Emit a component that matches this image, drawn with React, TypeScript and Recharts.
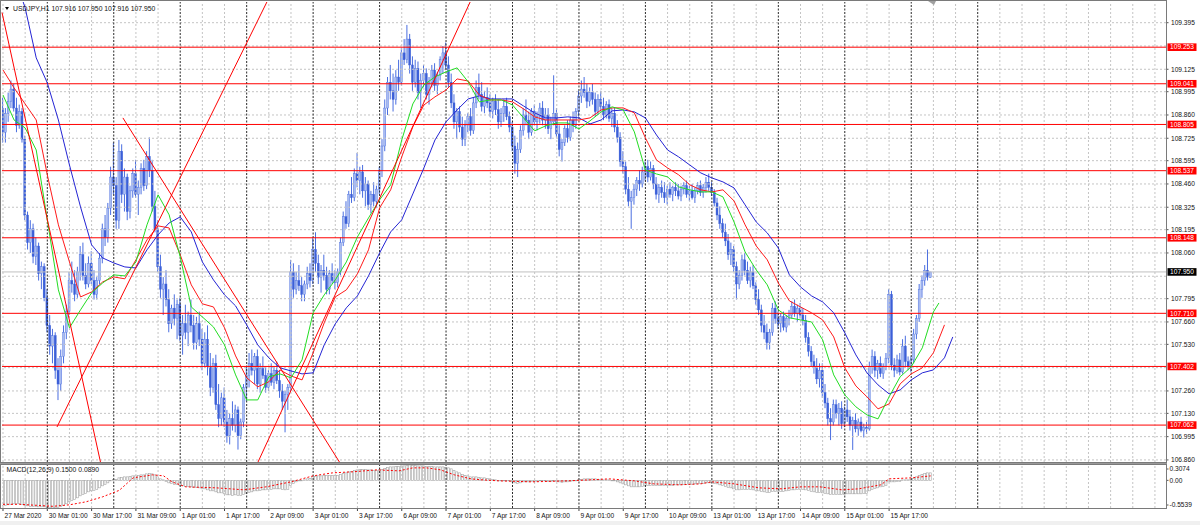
import React from 'react';
import { ComposedChart, Bar, Line, XAxis, YAxis, ReferenceLine } from 'recharts';

const FONT = '"Liberation Sans", Arial, sans-serif';
const X_DOMAIN: [number, number] = [-0.36, 420];
const PRICE_DOMAIN: [number, number] = [106.848, 109.515];
const MACD_DOMAIN: [number, number] = [-0.5539, 0.3074];

const symbolTitle = 'USDJPY,H1  107.916 107.950 107.916 107.950';
const macdTitle = 'MACD(12,26,9) 0.1500 0.0890';

const timeLabels = ['27 Mar 2020', '30 Mar 01:00', '30 Mar 17:00', '31 Mar 09:00', '1 Apr 01:00', '1 Apr 17:00', '2 Apr 09:00', '3 Apr 01:00', '3 Apr 17:00', '6 Apr 09:00', '7 Apr 01:00', '7 Apr 17:00', '8 Apr 09:00', '9 Apr 01:00', '9 Apr 17:00', '10 Apr 09:00', '13 Apr 01:00', '13 Apr 17:00', '14 Apr 09:00', '15 Apr 01:00', '15 Apr 17:00'];
const labelBars = timeLabels.map((_, k) => k * 16);
const gridBars = Array.from({ length: 53 }, (_, k) => k * 8);
const daySeparatorBars = Array.from({ length: 15 }, (_, k) => 16 + k * 24);

const priceTicks = [106.86, 106.995, 107.13, 107.26, 107.395, 107.53, 107.66, 107.795, 107.925, 108.06, 108.195, 108.325, 108.46, 108.595, 108.725, 108.86, 108.995, 109.125, 109.26, 109.395];
const coveredTicks = [107.395, 107.925, 109.26];
const levels = [109.253, 109.041, 108.805, 108.537, 108.148, 107.71, 107.402, 107.062];
const lastPrice = 107.95;
const macdTicks = [0.3074, 0, -0.5539];

const trendLines: [number, number][][] = [
  [[-0.36, 109.454], [35.2, 106.848]],
  [[19.5, 107.051], [95.3, 109.515]],
  [[43.3, 108.843], [121.5, 106.848]],
  [[92.1, 106.848], [168.7, 109.515]],
];

// hourly candles [open, high, low, close], in thousandths of a yen above 106.000
const candles: number[][] = [
  [2900,2960,2700,2760],[2760,2900,2700,2870],[2870,2990,2820,2940],[2940,3060,2900,3010],[3010,3040,2880,2900],[2900,2960,2760,2800],[2800,2920,2780,2880],[2880,2900,2700,2720],[2720,2740,2250,2280],[2280,2300,2080,2120],
  [2120,2250,2060,2200],[2200,2230,2000,2040],[2040,2150,1990,2100],[2100,2120,1900,1940],[1940,2010,1850,1980],[1980,2000,1780,1800],[1800,1850,1600,1640],[1640,1700,1470,1520],[1520,1620,1420,1580],[1580,1600,1330,1380],
  [1380,1450,1207,1300],[1300,1500,1260,1460],[1460,1640,1420,1600],[1600,1760,1560,1720],[1720,1950,1700,1900],[1900,2010,1830,1880],[1880,1960,1780,1820],[1820,1980,1800,1950],[1950,2100,1900,2050],[2050,2120,1900,1930],
  [1930,2000,1850,1880],[1880,2040,1860,2000],[2000,2070,1880,1900],[1900,1960,1790,1820],[1820,1920,1790,1900],[1900,2060,1880,2030],[2030,2230,2000,2200],[2200,2280,2100,2150],[2150,2350,2120,2320],[2320,2560,2280,2500],
  [2500,2700,2400,2450],[2450,2500,2200,2250],[2250,2715,2200,2650],[2650,2690,2350,2400],[2400,2550,2300,2500],[2500,2520,2250,2300],[2300,2450,2260,2420],[2420,2550,2380,2520],[2520,2600,2380,2400],[2400,2480,2280,2440],
  [2440,2580,2400,2550],[2550,2600,2420,2450],[2450,2650,2430,2620],[2620,2730,2500,2540],[2540,2600,2300,2330],[2330,2420,2180,2200],[2200,2250,1950,1980],[1980,2050,1800,1850],[1850,1920,1700,1880],[1880,1960,1750,1790],
  [1790,1850,1600,1650],[1650,1760,1620,1740],[1740,1820,1640,1680],[1680,1790,1560,1760],[1760,1800,1550,1580],[1580,1700,1470,1650],[1650,1760,1560,1600],[1600,1720,1520,1700],[1700,1790,1600,1640],[1640,1700,1500,1540],
  [1540,1690,1500,1650],[1650,1720,1520,1560],[1560,1620,1380,1420],[1420,1600,1400,1560],[1560,1640,1350,1400],[1400,1480,1230,1280],[1280,1450,1250,1420],[1420,1470,1150,1180],[1180,1300,1050,1100],[1100,1250,1060,1220],
  [1220,1280,1050,1080],[1080,1150,960,1000],[1000,1130,950,1100],[1100,1200,1030,1060],[1060,1180,1020,1150],[1150,1170,920,1000],[1000,1100,980,1080],[1080,1300,1050,1280],[1280,1400,1200,1350],[1350,1480,1280,1420],
  [1420,1500,1350,1380],[1380,1480,1300,1460],[1460,1500,1270,1300],[1300,1420,1250,1390],[1390,1460,1330,1350],[1350,1400,1250,1280],[1280,1380,1260,1360],[1360,1420,1290,1310],[1310,1400,1270,1380],[1380,1430,1300,1320],
  [1320,1380,1220,1260],[1260,1300,1150,1200],[1200,1260,1020,1240],[1240,1300,1150,1280],[1280,2020,1260,1950],[1950,2000,1800,1850],[1850,1950,1820,1900],[1900,1990,1840,1870],[1870,1920,1780,1820],[1820,1900,1780,1880],
  [1880,1980,1850,1940],[1940,2000,1860,1900],[1900,2150,1880,2080],[2080,2180,1950,2000],[2000,2050,1880,1920],[1920,1990,1830,1960],[1960,2050,1900,1930],[1930,1980,1820,1850],[1850,1960,1820,1940],[1940,2000,1880,1900],
  [1900,1960,1850,1890],[1890,1970,1860,1950],[1950,2150,1930,2120],[2120,2300,2100,2270],[2270,2360,2200,2230],[2230,2420,2210,2400],[2400,2500,2350,2380],[2380,2550,2360,2520],[2520,2640,2440,2480],[2480,2560,2400,2530],
  [2530,2570,2380,2420],[2420,2500,2330,2460],[2460,2480,2310,2340],[2340,2420,2290,2400],[2400,2470,2330,2360],[2360,2450,2320,2430],[2430,2560,2400,2540],[2540,2720,2500,2680],[2680,2950,2650,2900],[2900,3080,2860,3050],
  [3050,3150,2950,3000],[3000,3100,2880,2950],[2950,3120,2920,3080],[3080,3180,3000,3050],[3050,3250,3030,3220],[3220,3300,3150,3180],[3180,3382,3160,3300],[3300,3330,3100,3150],[3150,3200,3000,3050],[3050,3180,3020,3130],
  [3130,3170,2950,2990],[2990,3100,2900,3060],[3060,3150,3020,3100],[3100,3130,2950,2980],[2980,3080,2920,3050],[3050,3150,3020,3120],[3120,3160,3000,3030],[3030,3110,2980,3090],[3090,3200,3060,3180],[3180,3260,3100,3220],
  [3220,3280,3120,3150],[3150,3200,3020,3050],[3050,3100,2900,2930],[2930,2980,2780,2820],[2820,2900,2720,2880],[2880,2910,2760,2790],[2790,2850,2680,2720],[2720,2830,2680,2800],[2800,2870,2760,2850],[2850,2900,2740,2770],
  [2770,2960,2750,2930],[2930,3060,2900,3020],[3020,3100,2950,2980],[2980,3050,2880,2910],[2910,3000,2870,2960],[2960,3020,2900,2930],[2930,2980,2850,2880],[2880,2960,2840,2940],[2940,2980,2860,2890],[2890,2950,2780,2820],
  [2820,2900,2790,2870],[2870,2950,2820,2910],[2910,2960,2830,2850],[2850,2880,2760,2790],[2790,2820,2650,2680],[2680,2740,2520,2580],[2580,2700,2500,2660],[2660,2800,2640,2770],[2770,2900,2740,2860],[2860,2950,2800,2830],
  [2830,2880,2720,2760],[2760,2900,2740,2880],[2880,2920,2800,2820],[2820,2880,2770,2850],[2850,2930,2810,2900],[2900,2940,2800,2830],[2830,2900,2780,2860],[2860,2900,2750,2780],[2780,2850,2720,2820],[2820,3090,2800,2870],
  [2870,2900,2730,2750],[2750,2800,2620,2660],[2660,2720,2590,2700],[2700,2800,2680,2780],[2780,2830,2700,2730],[2730,2850,2710,2830],[2830,2880,2760,2800],[2800,2900,2780,2880],[2880,3000,2850,2970],[2970,3060,2930,3010],
  [3010,3080,2960,2990],[2990,3040,2900,2940],[2940,3020,2910,2990],[2990,3040,2920,2950],[2950,2990,2850,2880],[2880,2980,2860,2950],[2950,3000,2880,2910],[2910,2960,2830,2860],[2860,2940,2840,2920],[2920,2950,2820,2840],
  [2840,2900,2790,2870],[2870,2900,2760,2790],[2790,2830,2700,2730],[2730,2760,2560,2590],[2590,2650,2520,2560],[2560,2590,2400,2430],[2430,2500,2330,2360],[2360,2420,2200,2380],[2380,2460,2340,2430],[2430,2500,2390,2480],
  [2480,2540,2420,2460],[2460,2560,2440,2530],[2530,2590,2480,2560],[2560,2600,2470,2500],[2500,2590,2480,2550],[2550,2570,2430,2460],[2460,2500,2370,2400],[2400,2460,2350,2440],[2440,2480,2380,2410],[2410,2470,2350,2380],
  [2380,2450,2340,2430],[2430,2470,2380,2400],[2400,2450,2360,2440],[2440,2470,2390,2420],[2420,2460,2370,2390],[2390,2450,2360,2430],[2430,2470,2400,2450],[2450,2480,2380,2400],[2400,2450,2360,2420],[2420,2460,2370,2380],
  [2380,2440,2350,2420],[2420,2470,2400,2450],[2450,2480,2390,2410],[2410,2460,2380,2440],[2440,2500,2410,2470],[2470,2520,2420,2440],[2440,2470,2390,2410],[2410,2430,2330,2350],[2350,2380,2250,2280],[2280,2330,2200,2230],
  [2230,2260,2150,2180],[2180,2230,2100,2130],[2130,2170,2020,2050],[2050,2120,1990,2080],[2080,2100,1950,1980],[1980,2010,1790,1880],[1880,1960,1850,1930],[1930,2050,1900,2020],[2020,2060,1930,1960],[1960,2010,1880,1900],
  [1900,1980,1860,1950],[1950,1990,1850,1870],[1870,1890,1760,1790],[1790,1850,1700,1730],[1730,1760,1600,1640],[1640,1700,1560,1600],[1600,1650,1500,1540],[1540,1620,1500,1600],[1600,1770,1580,1740],[1740,1780,1650,1680],
  [1680,1720,1620,1650],[1650,1710,1600,1690],[1690,1720,1610,1630],[1630,1700,1600,1680],[1680,1730,1640,1700],[1700,1780,1680,1750],[1750,1790,1690,1710],[1710,1760,1660,1740],[1740,1770,1680,1700],[1700,1740,1640,1670],
  [1670,1700,1540,1570],[1570,1600,1460,1490],[1490,1520,1400,1430],[1430,1470,1360,1400],[1400,1450,1300,1330],[1330,1420,1280,1380],[1380,1420,1220,1250],[1250,1300,1160,1190],[1190,1220,1060,1100],[1100,1160,975,1080],
  [1080,1210,1060,1180],[1180,1210,1100,1130],[1130,1190,1060,1160],[1160,1200,1040,1070],[1070,1170,1050,1150],[1150,1210,1080,1110],[1110,1150,1030,1060],[1060,1110,918,1090],[1090,1130,1020,1040],[1040,1100,1000,1080],
  [1080,1110,1020,1030],[1030,1070,990,1050],[1050,1080,1010,1040],[1040,1430,1030,1400],[1400,1500,1360,1460],[1460,1490,1340,1380],[1380,1440,1330,1420],[1420,1460,1340,1360],[1360,1420,1330,1400],[1400,1480,1380,1450],
  [1450,1850,1420,1820],[1820,1840,1380,1410],[1410,1450,1340,1380],[1380,1470,1360,1440],[1440,1480,1350,1370],[1370,1560,1360,1520],[1520,1580,1400,1430],[1430,1460,1380,1400],[1400,1460,1370,1440],[1440,1620,1420,1590],
  [1590,1700,1560,1680],[1680,1880,1660,1850],[1850,1930,1800,1900],[1900,1990,1870,1960],[1960,2080,1900,1920],[1916,1950,1916,1950],
];

// moving averages: [bar, price]
const maFast: [number, number][] = [
  [0,108.976],[4,108.831],[8,108.785],[12,108.657],[16,108.252],[20,107.846],[24,107.626],[28,107.730],[32,107.829],[36,107.886],
  [40,107.933],[44,107.927],[48,108.008],[52,108.223],[56,108.397],[60,108.281],[64,108.037],[68,107.747],[72,107.689],[76,107.631],
  [80,107.527],[84,107.353],[88,107.208],[92,107.208],[96,107.342],[100,107.359],[104,107.336],[108,107.440],[112,107.713],[116,107.817],
  [120,107.904],[124,108.008],[128,108.153],[132,108.263],[136,108.368],[140,108.455],[144,108.715],[148,108.924],[152,109.034],[156,109.081],
  [160,109.110],[164,109.133],[168,109.052],[172,108.936],[176,108.947],[180,108.947],[184,108.918],[188,108.843],[192,108.768],[196,108.797],
  [200,108.814],[204,108.814],[208,108.779],[212,108.826],[216,108.878],[220,108.907],[224,108.889],[228,108.762],[232,108.541],[236,108.518],
  [240,108.501],[244,108.443],[248,108.426],[252,108.414],[256,108.414],[260,108.385],[264,108.240],[268,108.066],[272,107.962],[276,107.875],
  [280,107.730],[284,107.684],[288,107.672],[292,107.660],[296,107.556],[300,107.353],[304,107.237],[308,107.168],[312,107.121],[316,107.098],
  [320,107.226],[324,107.342],[328,107.400],[332,107.510],[336,107.718],[338,107.770],
];
const maMid: [number, number][] = [
  [0,109.121],[4,109.017],[8,108.924],[12,108.831],[16,108.513],[20,108.223],[24,108.008],[28,107.805],[32,107.834],[36,107.892],
  [40,107.921],[44,107.910],[48,108.020],[52,108.136],[56,108.217],[60,108.205],[64,108.049],[68,107.875],[72,107.765],[76,107.747],
  [80,107.626],[84,107.463],[88,107.336],[92,107.284],[96,107.313],[100,107.382],[104,107.347],[108,107.324],[112,107.481],[116,107.655],
  [120,107.805],[124,107.846],[128,107.939],[132,108.078],[136,108.321],[140,108.426],[144,108.617],[148,108.791],[152,108.918],[156,108.965],
  [160,109.005],[164,109.069],[168,109.057],[172,108.976],[176,108.947],[180,108.947],[184,108.936],[188,108.895],[192,108.849],[196,108.831],
  [200,108.831],[204,108.831],[208,108.831],[212,108.843],[216,108.889],[220,108.901],[224,108.901],[228,108.872],[232,108.727],[236,108.599],
  [240,108.553],[244,108.513],[248,108.455],[252,108.426],[256,108.414],[260,108.426],[264,108.362],[268,108.223],[272,108.101],[276,108.020],
  [280,107.886],[284,107.782],[288,107.747],[292,107.713],[296,107.672],[300,107.573],[304,107.394],[308,107.289],[312,107.226],[316,107.156],
  [320,107.185],[324,107.301],[328,107.359],[332,107.394],[336,107.481],[340,107.643],
];
const maSlow: [number, number][] = [
  [0,109.875],[4,109.672],[8,109.481],[12,109.191],[16,109.046],[20,108.831],[24,108.570],[28,108.327],[32,108.107],[36,108.031],
  [40,108.002],[44,107.979],[48,107.973],[52,108.078],[56,108.165],[60,108.234],[64,108.269],[68,108.182],[72,108.008],[76,107.904],
  [80,107.817],[84,107.753],[88,107.643],[92,107.527],[96,107.452],[100,107.394],[104,107.376],[108,107.359],[112,107.365],[116,107.527],
  [120,107.649],[124,107.742],[128,107.811],[132,107.927],[136,108.060],[140,108.182],[144,108.252],[148,108.402],[152,108.553],[156,108.715],
  [160,108.820],[164,108.889],[168,108.953],[172,108.971],[176,108.953],[180,108.953],[184,108.953],[188,108.912],[192,108.872],[196,108.843],
  [200,108.843],[204,108.849],[208,108.843],[212,108.808],[216,108.831],[220,108.884],[224,108.889],[228,108.878],[232,108.843],[236,108.744],
  [240,108.657],[244,108.617],[248,108.570],[252,108.524],[256,108.495],[260,108.472],[264,108.437],[268,108.339],[272,108.240],[276,108.176],
  [280,108.089],[284,107.933],[288,107.863],[292,107.811],[296,107.776],[300,107.713],[304,107.597],[308,107.469],[312,107.365],[316,107.295],
  [320,107.243],[324,107.266],[328,107.324],[332,107.365],[336,107.382],[340,107.452],[343,107.573],
];

// MACD main (histogram), one value per bar
const macdMain: number[] = [
  -0.50,-0.50,-0.49,-0.48,-0.47,-0.47,-0.47,-0.48,-0.50,-0.51,
  -0.52,-0.52,-0.52,-0.53,-0.53,-0.53,-0.54,-0.55,-0.5539,-0.55,
  -0.54,-0.52,-0.50,-0.47,-0.43,-0.40,-0.38,-0.35,-0.31,-0.28,
  -0.26,-0.23,-0.21,-0.20,-0.18,-0.15,-0.11,-0.08,-0.05,-0.01,
  0.02,0.02,0.05,0.06,0.07,0.07,0.08,0.09,0.09,0.10,
  0.11,0.11,0.13,0.14,0.13,0.11,0.07,0.03,0.01,-0.02,
  -0.05,-0.06,-0.08,-0.08,-0.10,-0.11,-0.12,-0.12,-0.13,-0.14,
  -0.14,-0.15,-0.17,-0.17,-0.19,-0.21,-0.21,-0.23,-0.25,-0.25,
  -0.27,-0.29,-0.29,-0.30,-0.29,-0.30,-0.30,-0.28,-0.26,-0.24,
  -0.23,-0.21,-0.21,-0.20,-0.19,-0.19,-0.18,-0.18,-0.17,-0.17,
  -0.17,-0.18,-0.19,-0.18,-0.10,-0.06,-0.03,-0.01,0.00,0.01,
  0.03,0.04,0.07,0.08,0.09,0.09,0.10,0.10,0.10,0.10,
  0.10,0.10,0.12,0.14,0.15,0.17,0.18,0.20,0.21,0.22,
  0.22,0.22,0.21,0.21,0.20,0.20,0.21,0.22,0.24,0.26,
  0.27,0.27,0.28,0.28,0.29,0.29,0.30,0.3074,0.30,0.30,
  0.29,0.29,0.29,0.28,0.28,0.28,0.27,0.27,0.27,0.27,
  0.26,0.25,0.23,0.20,0.17,0.15,0.12,0.10,0.09,0.07,
  0.07,0.07,0.06,0.05,0.05,0.04,0.03,0.02,0.01,0.00,
  0.00,0.00,0.00,-0.01,-0.03,-0.05,-0.06,-0.05,-0.03,-0.03,
  -0.03,-0.02,-0.02,-0.02,-0.01,-0.01,-0.01,-0.02,-0.02,-0.01,
  -0.02,-0.03,-0.04,-0.03,-0.03,-0.02,-0.01,0.00,0.01,0.02,
  0.03,0.03,0.03,0.03,0.03,0.02,0.02,0.01,0.01,0.01,
  0.00,-0.01,-0.03,-0.05,-0.07,-0.09,-0.11,-0.13,-0.13,-0.13,
  -0.13,-0.12,-0.11,-0.10,-0.10,-0.10,-0.10,-0.10,-0.10,-0.10,
  -0.10,-0.10,-0.10,-0.09,-0.09,-0.09,-0.08,-0.08,-0.08,-0.08,
  -0.07,-0.07,-0.06,-0.06,-0.05,-0.05,-0.05,-0.06,-0.07,-0.09,
  -0.10,-0.12,-0.14,-0.15,-0.17,-0.19,-0.19,-0.18,-0.18,-0.18,
  -0.18,-0.19,-0.20,-0.21,-0.22,-0.23,-0.24,-0.24,-0.22,-0.22,
  -0.22,-0.22,-0.22,-0.21,-0.20,-0.19,-0.19,-0.18,-0.18,-0.18,
  -0.19,-0.20,-0.22,-0.23,-0.24,-0.24,-0.25,-0.26,-0.27,-0.28,
  -0.28,-0.28,-0.28,-0.28,-0.28,-0.27,-0.27,-0.27,-0.27,-0.27,
  -0.27,-0.26,-0.26,-0.21,-0.18,-0.16,-0.15,-0.13,-0.12,-0.10,
  -0.03,-0.03,-0.03,-0.02,-0.02,0.01,0.01,0.01,0.02,0.04,
  0.07,0.10,0.12,0.14,0.15,0.15,
];
// MACD signal line: [bar, value]
const macdSignal: [number, number][] = [
  [0,-0.48],[6,-0.48],[12,-0.50],[18,-0.52],[24,-0.49],[30,-0.43],[36,-0.33],[42,-0.20],[47,0.05],[54,0.11],
  [58,0.09],[61,-0.03],[66,-0.13],[77,-0.15],[87,-0.19],[95,-0.13],[104,-0.03],[112,0.09],[119,0.15],[126,0.17],
  [135,0.21],[143,0.19],[148,0.25],[153,0.25],[158,0.21],[163,0.11],[169,0.03],[173,0.01],[179,-0.01],[191,-0.03],
  [204,-0.01],[212,0.01],[219,0.03],[228,-0.01],[235,-0.07],[244,-0.09],[252,-0.07],[256,-0.03],[264,-0.07],[273,-0.15],
  [281,-0.17],[288,-0.13],[295,-0.13],[303,-0.19],[309,-0.17],[317,-0.09],[320,0.03],[328,0.05],[335,0.089],
];

// ---------- tables built from the arrays above ----------
const priceRows: any[] = Array.from({ length: 344 }, (_, i) => ({ i }));
candles.forEach((c, i) => {
  const [o, h, l, cl] = c.map((v) => 106 + v / 1000);
  Object.assign(priceRows[i], { o, h, l, c: cl, range: [l, h] });
});
maFast.forEach(([b, v]) => (priceRows[b].g = v));
maMid.forEach(([b, v]) => (priceRows[b].r = v));
maSlow.forEach(([b, v]) => (priceRows[b].s = v));

const macdRows: any[] = macdMain.map((m, i) => ({ i, m }));
macdSignal.forEach(([b, v]) => (macdRows[b].sig = v));

// ---------- styling ----------
const BULL_FILL = '#a9bcf0';
const BEAR_FILL = '#3b5fd8';
const WICK = '#4a6ee0';
const GRID = '#c4c4c4';
const SEP = '#2a2a2a';
const LEVEL = '#ff0000';

const CandleShape = (props: any) => {
  const { x, y, width, height, payload } = props;
  if (!payload || payload.o == null || x == null) return null;
  const top = Math.min(y, y + height);
  const hgt = Math.abs(height);
  const { o, h, l, c } = payload;
  const cx = x + width / 2;
  const k = h - l > 0 ? hgt / (h - l) : 0;
  const yO = top + (h - o) * k;
  const yC = top + (h - c) * k;
  const up = c >= o;
  const bTop = Math.min(yO, yC);
  const bH = Math.max(Math.abs(yC - yO), 1);
  return (
    <g>
      <line x1={cx} x2={cx} y1={top} y2={top + hgt} stroke={WICK} strokeWidth={1} />
      <rect x={cx - 1} y={bTop} width={2} height={bH} fill={up ? BULL_FILL : BEAR_FILL} stroke={up ? WICK : BEAR_FILL} strokeWidth={0.4} />
    </g>
  );
};

const HistShape = (props: any) => {
  const { x, y, width, height } = props;
  if (x == null || y == null) return null;
  const top = Math.min(y, y + height);
  const hgt = Math.max(Math.abs(height), 0.5);
  const cx = x + width / 2;
  return <rect x={cx - 1} y={top} width={2} height={hgt} fill="#ffffff" stroke="#a4a4a4" strokeWidth={0.6} />;
};

const PriceTick = (props: any) => {
  const { x, y, payload } = props;
  return (
    <g>
      <line x1={x} x2={x + 2.5} y1={y} y2={y} stroke="#555" strokeWidth={1} />
      <text x={x + 5} y={y} dy="0.35em" fontSize={6.6} fontFamily={FONT} fill="#111">
        {Number(payload.value).toFixed(3)}
      </text>
    </g>
  );
};

const MacdTick = (props: any) => {
  const { x, y, payload } = props;
  const v = Number(payload.value);
  const yy = v === macdTicks[0] ? y + 4 : v === macdTicks[2] ? y - 3 : y;
  const txt = v === 0 ? '0.00' : v.toFixed(4);
  return (
    <g>
      <line x1={x} x2={x + 2.5} y1={yy} y2={yy} stroke="#555" strokeWidth={1} />
      <text x={x + 3.5} y={yy} dy="0.35em" fontSize={6.6} fontFamily={FONT} fill="#111">
        {txt}
      </text>
    </g>
  );
};

const TimeTick = (props: any) => {
  const { x, y, payload } = props;
  const idx = labelBars.indexOf(Number(payload.value));
  return (
    <g>
      <line x1={x} x2={x} y1={y} y2={y + 3} stroke="#444" strokeWidth={1} />
      <text x={x + 1.5} y={y + 8} dy="0.35em" fontSize={6.6} fontFamily={FONT} fill="#111">
        {timeLabels[idx]}
      </text>
    </g>
  );
};

const PriceTag = (props: any) => {
  const { viewBox, text, bg } = props;
  if (!viewBox) return null;
  const x = viewBox.x + viewBox.width + 1.5;
  const y = viewBox.y;
  return (
    <g>
      <rect x={x} y={y - 3.8} width={29} height={7.6} fill={bg} />
      <text x={x + 14.5} y={y} dy="0.35em" textAnchor="middle" fontSize={6.6} fontFamily={FONT} fill="#ffffff">
        {text}
      </text>
    </g>
  );
};

const verticalGrid = (prefix: string) => [
  ...gridBars
    .filter((b) => !daySeparatorBars.includes(b))
    .map((b) => <ReferenceLine key={`${prefix}g${b}`} x={b} stroke={GRID} strokeDasharray="2 2" ifOverflow="visible" />),
  ...daySeparatorBars.map((b) => <ReferenceLine key={`${prefix}d${b}`} x={b} stroke={SEP} strokeDasharray="2 1.5" ifOverflow="visible" />),
];

export default function App() {
  return (
    <div style={{ position: 'absolute', left: 0, top: 0, width: 1200, height: 525, background: '#ffffff', overflow: 'hidden' }}>
      <div style={{ position: 'absolute', left: 0, top: 0 }}>
        <ComposedChart width={1200} height={463} data={priceRows} margin={{ top: 2, right: 0, bottom: 1, left: 2 }}>
          <XAxis dataKey="i" type="number" domain={X_DOMAIN} allowDataOverflow hide />
          <YAxis
            orientation="right"
            type="number"
            domain={PRICE_DOMAIN}
            allowDataOverflow
            ticks={priceTicks.filter((t) => !coveredTicks.includes(t))}
            interval={0}
            width={34}
            tick={<PriceTick />}
            tickLine={false}
            axisLine={false}
            tickSize={0}
            tickMargin={0}
          />
          {priceTicks.map((t) => (
            <ReferenceLine key={`h${t}`} y={t} stroke={GRID} strokeDasharray="2 2" />
          ))}
          {verticalGrid('p')}
          <ReferenceLine y={lastPrice} stroke="#c0c0c0" label={<PriceTag text={lastPrice.toFixed(3)} bg="#000000" />} />
          {levels.map((v) => (
            <ReferenceLine key={`l${v}`} y={v} stroke={LEVEL} strokeWidth={1} label={<PriceTag text={v.toFixed(3)} bg={LEVEL} />} />
          ))}
          <Bar dataKey="range" barSize={2} shape={<CandleShape />} isAnimationActive={false} />
          <Line dataKey="s" type="linear" stroke="#2424d4" strokeWidth={1} dot={false} connectNulls isAnimationActive={false} />
          <Line dataKey="r" type="linear" stroke="#ff1a1a" strokeWidth={1} dot={false} connectNulls isAnimationActive={false} />
          <Line dataKey="g" type="linear" stroke="#22dd22" strokeWidth={1} dot={false} connectNulls isAnimationActive={false} />
          {trendLines.map((seg, k) => (
            <ReferenceLine key={`t${k}`} segment={[{ x: seg[0][0], y: seg[0][1] }, { x: seg[1][0], y: seg[1][1] }]} stroke={LEVEL} strokeWidth={1} ifOverflow="visible" />
          ))}
        </ComposedChart>
      </div>
      <div style={{ position: 'absolute', left: 0, top: 463 }}>
        <ComposedChart width={1200} height={62} data={macdRows} margin={{ top: 2, right: 0, bottom: 0, left: 2 }}>
          <XAxis
            dataKey="i"
            type="number"
            domain={X_DOMAIN}
            allowDataOverflow
            ticks={labelBars}
            interval={0}
            height={17}
            tick={<TimeTick />}
            tickLine={false}
            axisLine={false}
            tickSize={0}
            tickMargin={0}
          />
          <YAxis
            orientation="right"
            type="number"
            domain={MACD_DOMAIN}
            allowDataOverflow
            ticks={macdTicks}
            interval={0}
            width={34}
            tick={<MacdTick />}
            tickLine={false}
            axisLine={false}
            tickSize={0}
            tickMargin={0}
          />
          {verticalGrid('m')}
          <Bar dataKey="m" barSize={2} shape={<HistShape />} isAnimationActive={false} />
          <Line dataKey="sig" type="linear" stroke="#ff0000" strokeWidth={1} strokeDasharray="2 2" dot={false} connectNulls isAnimationActive={false} />
        </ComposedChart>
      </div>
      <svg width={1200} height={525} style={{ position: 'absolute', left: 0, top: 0, pointerEvents: 'none' }}>
        <rect x={0.5} y={0.5} width={1166} height={462} fill="none" stroke="#7a7a7a" />
        <rect x={0.5} y={464.5} width={1166} height={44} fill="none" stroke="#7a7a7a" />
        <line x1={0} x2={1167} y1={463.5} y2={463.5} stroke="#9a9a9a" />
        <rect x={0} y={521} width={1200} height={4} fill="#f0f0f0" />
        <polygon points="5,7 9,7 7,10" fill="#000" />
        <text x={13} y={8.5} dy="0.35em" fontSize={6.8} fontFamily={FONT} fill="#111">{symbolTitle}</text>
        <text x={6.5} y={470} dy="0.35em" fontSize={6.8} fontFamily={FONT} fill="#111">{macdTitle}</text>
        <polygon points="928,1 936,1 934,5" fill="#a0a0a0" />
      </svg>
    </div>
  );
}
